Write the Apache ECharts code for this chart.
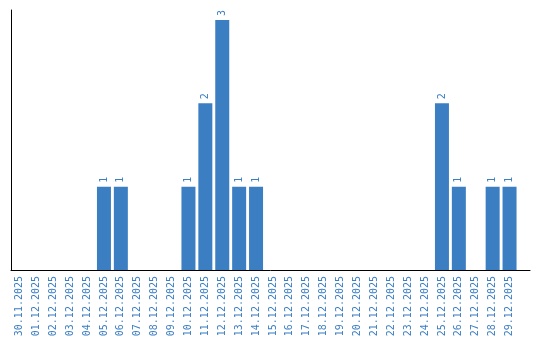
<!DOCTYPE html>
<html><head><meta charset="utf-8">
<script src="https://cdn.jsdelivr.net/npm/echarts@6/dist/echarts.min.js"></script>
<style>html,body{margin:0;padding:0;background:#fff}#c{width:540px;height:340px}</style>
</head><body><div id="c"></div>
<script>
const categories = ["30.11.2025","01.12.2025","02.12.2025","03.12.2025","04.12.2025","05.12.2025","06.12.2025","07.12.2025","08.12.2025","09.12.2025","10.12.2025","11.12.2025","12.12.2025","13.12.2025","14.12.2025","15.12.2025","16.12.2025","17.12.2025","18.12.2025","19.12.2025","20.12.2025","21.12.2025","22.12.2025","23.12.2025","24.12.2025","25.12.2025","26.12.2025","27.12.2025","28.12.2025","29.12.2025"];
const values = [0,0,0,0,0,1,1,0,0,0,1,2,3,1,1,0,0,0,0,0,0,0,0,0,0,2,1,0,1,1];
const blue = '#3b7ec2';
const font = '"DejaVu Sans Mono", monospace';
const chart = echarts.init(document.getElementById('c'), null, {renderer:'canvas'});
chart.setOption({
  animation:false,
  grid:[
    {left:11, right:22, top:10, bottom:70},
    {left:11, right:10, top:10, bottom:70}
  ],
  xAxis:[
    {type:'category', data:categories, gridIndex:0,
     axisLine:{show:false}, axisTick:{show:false},
     axisLabel:{rotate:90, interval:0, color:blue, fontFamily:font, fontSize:10, margin:6}},
    {type:'category', data:[''], gridIndex:1,
     axisLine:{show:true, lineStyle:{color:'#000', width:1}}, axisTick:{show:false}, axisLabel:{show:false}}
  ],
  yAxis:[
    {type:'value', gridIndex:0, min:0, max:3.12, show:false, splitLine:{show:false}},
    {type:'value', gridIndex:1, min:0, max:1, axisLine:{show:true, lineStyle:{color:'#000', width:1}},
     axisTick:{show:false}, axisLabel:{show:false}, splitLine:{show:false}}
  ],
  series:[{
    type:'bar', xAxisIndex:0, yAxisIndex:0,
    data:values.map(v => v === 0 ? {value:v, label:{show:false}} : v),
    barWidth:14,
    itemStyle:{color:blue},
    label:{show:true, position:'top', rotate:90, align:'left', verticalAlign:'middle', distance:4,
      color:blue, fontFamily:font, fontSize:10}
  }]
});
</script></body></html>
